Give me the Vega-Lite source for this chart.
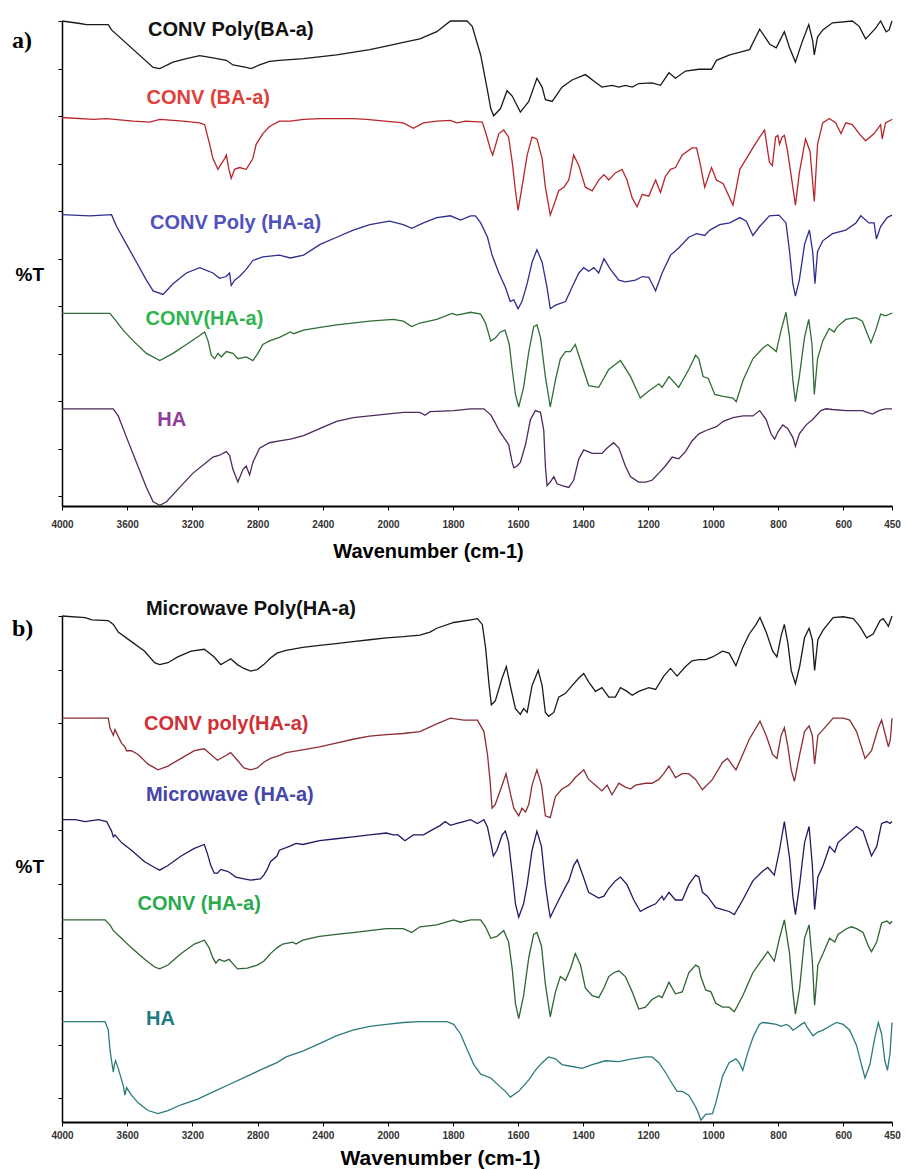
{
 "$schema": "https://vega.github.io/schema/vega-lite/v6.json",
 "background": "white",
 "padding": {"left": 12, "top": 18, "right": 2, "bottom": 2},
 "config": {"view": {"stroke": null}, "font": "Liberation Sans", "axis": {"grid": false, "labelFont": "Liberation Sans", "titleFont": "Liberation Sans"}},
 "spacing": 110,
 "bounds": "flush",
 "datasets": {
  "la": [
   {"s":"CONV Poly(BA-a)","w":3472,"t":133.2},
   {"s":"CONV (BA-a)","w":3481,"t":114.2},
   {"s":"CONV Poly (HA-a)","w":3460,"t":79.2},
   {"s":"CONV(HA-a)","w":3487,"t":52.2},
   {"s":"HA","w":3415,"t":24.2}
  ],
  "lb": [
   {"s":"Microwave Poly(HA-a)","w":3485,"t":134.0},
   {"s":"CONV poly(HA-a)","w":3497,"t":104.0},
   {"s":"Microwave (HA-a)","w":3485,"t":85.5},
   {"s":"CONV (HA-a)","w":3537,"t":57.0},
   {"s":"HA","w":3485,"t":27.0}
  ],
  "a": [
{"s":"CONV Poly(BA-a)","w":4000,"t":135.7},{"s":"CONV Poly(BA-a)","w":3890,"t":135.0},{"s":"CONV Poly(BA-a)","w":3849,"t":134.7},{"s":"CONV Poly(BA-a)","w":3716,"t":134.7},{"s":"CONV Poly(BA-a)","w":3696,"t":133.2},{"s":"CONV Poly(BA-a)","w":3441,"t":122.7},{"s":"CONV Poly(BA-a)","w":3400,"t":122.4},{"s":"CONV Poly(BA-a)","w":3319,"t":124.2},{"s":"CONV Poly(BA-a)","w":3237,"t":125.2},{"s":"CONV Poly(BA-a)","w":3155,"t":126.0},{"s":"CONV Poly(BA-a)","w":3074,"t":125.4},{"s":"CONV Poly(BA-a)","w":2992,"t":124.7},{"s":"CONV Poly(BA-a)","w":2951,"t":123.4},{"s":"CONV Poly(BA-a)","w":2870,"t":122.7},{"s":"CONV Poly(BA-a)","w":2839,"t":122.4},{"s":"CONV Poly(BA-a)","w":2788,"t":123.4},{"s":"CONV Poly(BA-a)","w":2727,"t":124.4},{"s":"CONV Poly(BA-a)","w":2666,"t":124.7},{"s":"CONV Poly(BA-a)","w":2518,"t":125.2},{"s":"CONV Poly(BA-a)","w":2315,"t":126.2},{"s":"CONV Poly(BA-a)","w":2112,"t":127.7},{"s":"CONV Poly(BA-a)","w":2010,"t":128.7},{"s":"CONV Poly(BA-a)","w":1953,"t":129.7},{"s":"CONV Poly(BA-a)","w":1902,"t":130.7},{"s":"CONV Poly(BA-a)","w":1850,"t":132.7},{"s":"CONV Poly(BA-a)","w":1808,"t":135.7},{"s":"CONV Poly(BA-a)","w":1757,"t":135.7},{"s":"CONV Poly(BA-a)","w":1741,"t":134.2},{"s":"CONV Poly(BA-a)","w":1715,"t":126.2},{"s":"CONV Poly(BA-a)","w":1694,"t":116.2},{"s":"CONV Poly(BA-a)","w":1684,"t":111.2},{"s":"CONV Poly(BA-a)","w":1675,"t":109.2},{"s":"CONV Poly(BA-a)","w":1654,"t":111.2},{"s":"CONV Poly(BA-a)","w":1634,"t":116.2},{"s":"CONV Poly(BA-a)","w":1618,"t":114.7},{"s":"CONV Poly(BA-a)","w":1593,"t":110.2},{"s":"CONV Poly(BA-a)","w":1567,"t":113.2},{"s":"CONV Poly(BA-a)","w":1542,"t":119.7},{"s":"CONV Poly(BA-a)","w":1526,"t":117.2},{"s":"CONV Poly(BA-a)","w":1516,"t":113.7},{"s":"CONV Poly(BA-a)","w":1495,"t":113.2},{"s":"CONV Poly(BA-a)","w":1480,"t":115.2},{"s":"CONV Poly(BA-a)","w":1465,"t":117.2},{"s":"CONV Poly(BA-a)","w":1434,"t":119.2},{"s":"CONV Poly(BA-a)","w":1393,"t":120.7},{"s":"CONV Poly(BA-a)","w":1357,"t":118.2},{"s":"CONV Poly(BA-a)","w":1342,"t":117.2},{"s":"CONV Poly(BA-a)","w":1311,"t":117.7},{"s":"CONV Poly(BA-a)","w":1290,"t":117.2},{"s":"CONV Poly(BA-a)","w":1270,"t":117.7},{"s":"CONV Poly(BA-a)","w":1249,"t":117.2},{"s":"CONV Poly(BA-a)","w":1229,"t":118.2},{"s":"CONV Poly(BA-a)","w":1188,"t":118.4},{"s":"CONV Poly(BA-a)","w":1162,"t":117.7},{"s":"CONV Poly(BA-a)","w":1136,"t":121.2},{"s":"CONV Poly(BA-a)","w":1116,"t":119.7},{"s":"CONV Poly(BA-a)","w":1085,"t":121.7},{"s":"CONV Poly(BA-a)","w":1044,"t":122.2},{"s":"CONV Poly(BA-a)","w":1005,"t":122.2},{"s":"CONV Poly(BA-a)","w":990,"t":124.7},{"s":"CONV Poly(BA-a)","w":949,"t":126.2},{"s":"CONV Poly(BA-a)","w":908,"t":127.2},{"s":"CONV Poly(BA-a)","w":888,"t":127.7},{"s":"CONV Poly(BA-a)","w":857,"t":133.4},{"s":"CONV Poly(BA-a)","w":826,"t":129.2},{"s":"CONV Poly(BA-a)","w":806,"t":128.2},{"s":"CONV Poly(BA-a)","w":781,"t":132.7},{"s":"CONV Poly(BA-a)","w":765,"t":128.2},{"s":"CONV Poly(BA-a)","w":747,"t":124.2},{"s":"CONV Poly(BA-a)","w":725,"t":130.2},{"s":"CONV Poly(BA-a)","w":706,"t":134.7},{"s":"CONV Poly(BA-a)","w":694,"t":130.2},{"s":"CONV Poly(BA-a)","w":689,"t":126.2},{"s":"CONV Poly(BA-a)","w":679,"t":131.2},{"s":"CONV Poly(BA-a)","w":663,"t":133.2},{"s":"CONV Poly(BA-a)","w":633,"t":135.2},{"s":"CONV Poly(BA-a)","w":572,"t":135.7},{"s":"CONV Poly(BA-a)","w":551,"t":134.2},{"s":"CONV Poly(BA-a)","w":531,"t":130.7},{"s":"CONV Poly(BA-a)","w":500,"t":133.7},{"s":"CONV Poly(BA-a)","w":485,"t":135.7},{"s":"CONV Poly(BA-a)","w":468,"t":132.7},{"s":"CONV Poly(BA-a)","w":459,"t":133.2},{"s":"CONV Poly(BA-a)","w":450,"t":135.7},
{"s":"CONV (BA-a)","w":4000,"t":108.7},{"s":"CONV (BA-a)","w":3808,"t":108.2},{"s":"CONV (BA-a)","w":3727,"t":108.4},{"s":"CONV (BA-a)","w":3563,"t":107.7},{"s":"CONV (BA-a)","w":3461,"t":107.4},{"s":"CONV (BA-a)","w":3400,"t":108.2},{"s":"CONV (BA-a)","w":3257,"t":107.7},{"s":"CONV (BA-a)","w":3155,"t":107.2},{"s":"CONV (BA-a)","w":3125,"t":106.7},{"s":"CONV (BA-a)","w":3094,"t":101.2},{"s":"CONV (BA-a)","w":3074,"t":97.2},{"s":"CONV (BA-a)","w":3043,"t":94.2},{"s":"CONV (BA-a)","w":3023,"t":95.7},{"s":"CONV (BA-a)","w":3002,"t":97.2},{"s":"CONV (BA-a)","w":2992,"t":98.2},{"s":"CONV (BA-a)","w":2976,"t":94.2},{"s":"CONV (BA-a)","w":2962,"t":91.7},{"s":"CONV (BA-a)","w":2941,"t":94.2},{"s":"CONV (BA-a)","w":2911,"t":94.7},{"s":"CONV (BA-a)","w":2870,"t":94.2},{"s":"CONV (BA-a)","w":2829,"t":97.2},{"s":"CONV (BA-a)","w":2809,"t":101.2},{"s":"CONV (BA-a)","w":2768,"t":104.2},{"s":"CONV (BA-a)","w":2727,"t":106.2},{"s":"CONV (BA-a)","w":2666,"t":107.7},{"s":"CONV (BA-a)","w":2599,"t":107.7},{"s":"CONV (BA-a)","w":2518,"t":108.2},{"s":"CONV (BA-a)","w":2416,"t":108.4},{"s":"CONV (BA-a)","w":2315,"t":108.4},{"s":"CONV (BA-a)","w":2213,"t":108.4},{"s":"CONV (BA-a)","w":2132,"t":108.2},{"s":"CONV (BA-a)","w":1953,"t":107.2},{"s":"CONV (BA-a)","w":1922,"t":105.7},{"s":"CONV (BA-a)","w":1891,"t":107.2},{"s":"CONV (BA-a)","w":1850,"t":107.7},{"s":"CONV (BA-a)","w":1808,"t":107.9},{"s":"CONV (BA-a)","w":1788,"t":107.2},{"s":"CONV (BA-a)","w":1762,"t":107.7},{"s":"CONV (BA-a)","w":1710,"t":107.4},{"s":"CONV (BA-a)","w":1698,"t":104.0},{"s":"CONV (BA-a)","w":1684,"t":99.5},{"s":"CONV (BA-a)","w":1678,"t":98.2},{"s":"CONV (BA-a)","w":1659,"t":104.2},{"s":"CONV (BA-a)","w":1644,"t":105.2},{"s":"CONV (BA-a)","w":1629,"t":103.2},{"s":"CONV (BA-a)","w":1618,"t":96.2},{"s":"CONV (BA-a)","w":1608,"t":88.2},{"s":"CONV (BA-a)","w":1600,"t":82.7},{"s":"CONV (BA-a)","w":1588,"t":89.2},{"s":"CONV (BA-a)","w":1572,"t":98.2},{"s":"CONV (BA-a)","w":1557,"t":103.2},{"s":"CONV (BA-a)","w":1542,"t":102.7},{"s":"CONV (BA-a)","w":1526,"t":97.2},{"s":"CONV (BA-a)","w":1516,"t":89.2},{"s":"CONV (BA-a)","w":1501,"t":81.4},{"s":"CONV (BA-a)","w":1490,"t":84.2},{"s":"CONV (BA-a)","w":1475,"t":88.2},{"s":"CONV (BA-a)","w":1459,"t":89.2},{"s":"CONV (BA-a)","w":1444,"t":91.2},{"s":"CONV (BA-a)","w":1429,"t":98.2},{"s":"CONV (BA-a)","w":1413,"t":95.2},{"s":"CONV (BA-a)","w":1393,"t":89.2},{"s":"CONV (BA-a)","w":1372,"t":88.2},{"s":"CONV (BA-a)","w":1352,"t":91.2},{"s":"CONV (BA-a)","w":1336,"t":92.7},{"s":"CONV (BA-a)","w":1321,"t":91.2},{"s":"CONV (BA-a)","w":1301,"t":93.2},{"s":"CONV (BA-a)","w":1280,"t":94.2},{"s":"CONV (BA-a)","w":1265,"t":91.2},{"s":"CONV (BA-a)","w":1249,"t":86.2},{"s":"CONV (BA-a)","w":1234,"t":83.7},{"s":"CONV (BA-a)","w":1218,"t":87.2},{"s":"CONV (BA-a)","w":1198,"t":86.7},{"s":"CONV (BA-a)","w":1177,"t":91.2},{"s":"CONV (BA-a)","w":1162,"t":87.7},{"s":"CONV (BA-a)","w":1147,"t":92.2},{"s":"CONV (BA-a)","w":1131,"t":94.2},{"s":"CONV (BA-a)","w":1116,"t":94.7},{"s":"CONV (BA-a)","w":1095,"t":98.2},{"s":"CONV (BA-a)","w":1065,"t":100.2},{"s":"CONV (BA-a)","w":1051,"t":100.2},{"s":"CONV (BA-a)","w":1041,"t":96.2},{"s":"CONV (BA-a)","w":1026,"t":89.2},{"s":"CONV (BA-a)","w":1005,"t":94.7},{"s":"CONV (BA-a)","w":990,"t":91.2},{"s":"CONV (BA-a)","w":969,"t":90.2},{"s":"CONV (BA-a)","w":939,"t":84.2},{"s":"CONV (BA-a)","w":918,"t":94.2},{"s":"CONV (BA-a)","w":898,"t":97.2},{"s":"CONV (BA-a)","w":878,"t":100.2},{"s":"CONV (BA-a)","w":857,"t":103.2},{"s":"CONV (BA-a)","w":842,"t":105.2},{"s":"CONV (BA-a)","w":827,"t":96.2},{"s":"CONV (BA-a)","w":818,"t":95.2},{"s":"CONV (BA-a)","w":808,"t":103.2},{"s":"CONV (BA-a)","w":801,"t":103.7},{"s":"CONV (BA-a)","w":796,"t":101.2},{"s":"CONV (BA-a)","w":788,"t":103.2},{"s":"CONV (BA-a)","w":781,"t":103.7},{"s":"CONV (BA-a)","w":771,"t":99.2},{"s":"CONV (BA-a)","w":755,"t":89.2},{"s":"CONV (BA-a)","w":747,"t":84.2},{"s":"CONV (BA-a)","w":735,"t":93.2},{"s":"CONV (BA-a)","w":716,"t":102.7},{"s":"CONV (BA-a)","w":702,"t":99.2},{"s":"CONV (BA-a)","w":689,"t":85.2},{"s":"CONV (BA-a)","w":679,"t":101.2},{"s":"CONV (BA-a)","w":663,"t":107.2},{"s":"CONV (BA-a)","w":643,"t":108.4},{"s":"CONV (BA-a)","w":623,"t":107.2},{"s":"CONV (BA-a)","w":607,"t":104.2},{"s":"CONV (BA-a)","w":592,"t":107.2},{"s":"CONV (BA-a)","w":572,"t":106.7},{"s":"CONV (BA-a)","w":551,"t":104.2},{"s":"CONV (BA-a)","w":531,"t":102.2},{"s":"CONV (BA-a)","w":505,"t":104.2},{"s":"CONV (BA-a)","w":485,"t":106.7},{"s":"CONV (BA-a)","w":480,"t":102.7},{"s":"CONV (BA-a)","w":470,"t":107.2},{"s":"CONV (BA-a)","w":449,"t":108.2},
{"s":"CONV Poly (HA-a)","w":4000,"t":81.5},{"s":"CONV Poly (HA-a)","w":3829,"t":81.2},{"s":"CONV Poly (HA-a)","w":3696,"t":81.5},{"s":"CONV Poly (HA-a)","w":3665,"t":78.2},{"s":"CONV Poly (HA-a)","w":3604,"t":73.2},{"s":"CONV Poly (HA-a)","w":3543,"t":68.2},{"s":"CONV Poly (HA-a)","w":3482,"t":63.2},{"s":"CONV Poly (HA-a)","w":3441,"t":60.2},{"s":"CONV Poly (HA-a)","w":3380,"t":59.2},{"s":"CONV Poly (HA-a)","w":3319,"t":62.2},{"s":"CONV Poly (HA-a)","w":3237,"t":65.2},{"s":"CONV Poly (HA-a)","w":3155,"t":66.7},{"s":"CONV Poly (HA-a)","w":3074,"t":65.2},{"s":"CONV Poly (HA-a)","w":3033,"t":63.7},{"s":"CONV Poly (HA-a)","w":2992,"t":64.2},{"s":"CONV Poly (HA-a)","w":2972,"t":65.2},{"s":"CONV Poly (HA-a)","w":2962,"t":61.7},{"s":"CONV Poly (HA-a)","w":2941,"t":63.2},{"s":"CONV Poly (HA-a)","w":2911,"t":64.2},{"s":"CONV Poly (HA-a)","w":2870,"t":66.2},{"s":"CONV Poly (HA-a)","w":2829,"t":68.7},{"s":"CONV Poly (HA-a)","w":2768,"t":69.7},{"s":"CONV Poly (HA-a)","w":2666,"t":70.2},{"s":"CONV Poly (HA-a)","w":2599,"t":69.4},{"s":"CONV Poly (HA-a)","w":2518,"t":70.2},{"s":"CONV Poly (HA-a)","w":2416,"t":73.2},{"s":"CONV Poly (HA-a)","w":2315,"t":75.2},{"s":"CONV Poly (HA-a)","w":2213,"t":77.2},{"s":"CONV Poly (HA-a)","w":2112,"t":78.7},{"s":"CONV Poly (HA-a)","w":1995,"t":79.7},{"s":"CONV Poly (HA-a)","w":1953,"t":78.7},{"s":"CONV Poly (HA-a)","w":1927,"t":77.7},{"s":"CONV Poly (HA-a)","w":1891,"t":79.2},{"s":"CONV Poly (HA-a)","w":1850,"t":80.7},{"s":"CONV Poly (HA-a)","w":1808,"t":81.2},{"s":"CONV Poly (HA-a)","w":1777,"t":80.0},{"s":"CONV Poly (HA-a)","w":1746,"t":81.2},{"s":"CONV Poly (HA-a)","w":1731,"t":81.2},{"s":"CONV Poly (HA-a)","w":1715,"t":79.2},{"s":"CONV Poly (HA-a)","w":1694,"t":75.2},{"s":"CONV Poly (HA-a)","w":1680,"t":70.2},{"s":"CONV Poly (HA-a)","w":1659,"t":65.2},{"s":"CONV Poly (HA-a)","w":1639,"t":61.2},{"s":"CONV Poly (HA-a)","w":1624,"t":57.2},{"s":"CONV Poly (HA-a)","w":1613,"t":57.7},{"s":"CONV Poly (HA-a)","w":1608,"t":56.7},{"s":"CONV Poly (HA-a)","w":1600,"t":55.2},{"s":"CONV Poly (HA-a)","w":1588,"t":57.2},{"s":"CONV Poly (HA-a)","w":1572,"t":62.2},{"s":"CONV Poly (HA-a)","w":1557,"t":68.2},{"s":"CONV Poly (HA-a)","w":1542,"t":71.7},{"s":"CONV Poly (HA-a)","w":1526,"t":68.2},{"s":"CONV Poly (HA-a)","w":1511,"t":61.2},{"s":"CONV Poly (HA-a)","w":1501,"t":55.2},{"s":"CONV Poly (HA-a)","w":1485,"t":56.2},{"s":"CONV Poly (HA-a)","w":1454,"t":57.2},{"s":"CONV Poly (HA-a)","w":1434,"t":61.2},{"s":"CONV Poly (HA-a)","w":1413,"t":65.2},{"s":"CONV Poly (HA-a)","w":1398,"t":66.7},{"s":"CONV Poly (HA-a)","w":1383,"t":65.7},{"s":"CONV Poly (HA-a)","w":1367,"t":66.7},{"s":"CONV Poly (HA-a)","w":1352,"t":65.2},{"s":"CONV Poly (HA-a)","w":1336,"t":69.2},{"s":"CONV Poly (HA-a)","w":1316,"t":66.2},{"s":"CONV Poly (HA-a)","w":1290,"t":63.2},{"s":"CONV Poly (HA-a)","w":1270,"t":62.7},{"s":"CONV Poly (HA-a)","w":1239,"t":63.2},{"s":"CONV Poly (HA-a)","w":1218,"t":64.2},{"s":"CONV Poly (HA-a)","w":1198,"t":64.0},{"s":"CONV Poly (HA-a)","w":1177,"t":60.2},{"s":"CONV Poly (HA-a)","w":1157,"t":65.2},{"s":"CONV Poly (HA-a)","w":1131,"t":70.2},{"s":"CONV Poly (HA-a)","w":1106,"t":72.2},{"s":"CONV Poly (HA-a)","w":1075,"t":75.2},{"s":"CONV Poly (HA-a)","w":1051,"t":76.2},{"s":"CONV Poly (HA-a)","w":1026,"t":75.7},{"s":"CONV Poly (HA-a)","w":1010,"t":77.2},{"s":"CONV Poly (HA-a)","w":980,"t":78.7},{"s":"CONV Poly (HA-a)","w":949,"t":79.2},{"s":"CONV Poly (HA-a)","w":918,"t":80.7},{"s":"CONV Poly (HA-a)","w":898,"t":79.7},{"s":"CONV Poly (HA-a)","w":878,"t":75.7},{"s":"CONV Poly (HA-a)","w":857,"t":78.2},{"s":"CONV Poly (HA-a)","w":827,"t":81.2},{"s":"CONV Poly (HA-a)","w":798,"t":81.4},{"s":"CONV Poly (HA-a)","w":776,"t":79.2},{"s":"CONV Poly (HA-a)","w":765,"t":71.2},{"s":"CONV Poly (HA-a)","w":755,"t":62.2},{"s":"CONV Poly (HA-a)","w":747,"t":58.7},{"s":"CONV Poly (HA-a)","w":735,"t":63.2},{"s":"CONV Poly (HA-a)","w":719,"t":73.2},{"s":"CONV Poly (HA-a)","w":704,"t":77.2},{"s":"CONV Poly (HA-a)","w":694,"t":71.2},{"s":"CONV Poly (HA-a)","w":687,"t":62.2},{"s":"CONV Poly (HA-a)","w":679,"t":71.2},{"s":"CONV Poly (HA-a)","w":663,"t":74.2},{"s":"CONV Poly (HA-a)","w":633,"t":76.2},{"s":"CONV Poly (HA-a)","w":592,"t":77.2},{"s":"CONV Poly (HA-a)","w":561,"t":79.2},{"s":"CONV Poly (HA-a)","w":546,"t":81.2},{"s":"CONV Poly (HA-a)","w":521,"t":79.2},{"s":"CONV Poly (HA-a)","w":505,"t":79.2},{"s":"CONV Poly (HA-a)","w":498,"t":74.7},{"s":"CONV Poly (HA-a)","w":485,"t":78.2},{"s":"CONV Poly (HA-a)","w":465,"t":80.7},{"s":"CONV Poly (HA-a)","w":450,"t":81.4},
{"s":"CONV(HA-a)","w":4000,"t":53.9},{"s":"CONV(HA-a)","w":3706,"t":53.9},{"s":"CONV(HA-a)","w":3676,"t":52.2},{"s":"CONV(HA-a)","w":3625,"t":49.2},{"s":"CONV(HA-a)","w":3563,"t":46.2},{"s":"CONV(HA-a)","w":3482,"t":42.7},{"s":"CONV(HA-a)","w":3400,"t":40.7},{"s":"CONV(HA-a)","w":3319,"t":42.7},{"s":"CONV(HA-a)","w":3237,"t":45.2},{"s":"CONV(HA-a)","w":3155,"t":47.7},{"s":"CONV(HA-a)","w":3125,"t":48.7},{"s":"CONV(HA-a)","w":3104,"t":46.2},{"s":"CONV(HA-a)","w":3084,"t":42.2},{"s":"CONV(HA-a)","w":3064,"t":41.2},{"s":"CONV(HA-a)","w":3043,"t":42.7},{"s":"CONV(HA-a)","w":3023,"t":41.7},{"s":"CONV(HA-a)","w":2992,"t":43.2},{"s":"CONV(HA-a)","w":2951,"t":42.7},{"s":"CONV(HA-a)","w":2921,"t":41.2},{"s":"CONV(HA-a)","w":2870,"t":41.7},{"s":"CONV(HA-a)","w":2829,"t":40.7},{"s":"CONV(HA-a)","w":2798,"t":42.7},{"s":"CONV(HA-a)","w":2768,"t":45.2},{"s":"CONV(HA-a)","w":2727,"t":46.2},{"s":"CONV(HA-a)","w":2666,"t":47.2},{"s":"CONV(HA-a)","w":2599,"t":48.7},{"s":"CONV(HA-a)","w":2579,"t":48.2},{"s":"CONV(HA-a)","w":2518,"t":49.2},{"s":"CONV(HA-a)","w":2416,"t":50.0},{"s":"CONV(HA-a)","w":2315,"t":50.7},{"s":"CONV(HA-a)","w":2112,"t":51.7},{"s":"CONV(HA-a)","w":1984,"t":52.2},{"s":"CONV(HA-a)","w":1953,"t":51.7},{"s":"CONV(HA-a)","w":1927,"t":50.2},{"s":"CONV(HA-a)","w":1902,"t":51.2},{"s":"CONV(HA-a)","w":1850,"t":52.2},{"s":"CONV(HA-a)","w":1803,"t":53.9},{"s":"CONV(HA-a)","w":1788,"t":53.4},{"s":"CONV(HA-a)","w":1746,"t":54.2},{"s":"CONV(HA-a)","w":1715,"t":53.7},{"s":"CONV(HA-a)","w":1700,"t":51.2},{"s":"CONV(HA-a)","w":1684,"t":46.2},{"s":"CONV(HA-a)","w":1670,"t":47.0},{"s":"CONV(HA-a)","w":1654,"t":48.7},{"s":"CONV(HA-a)","w":1640,"t":49.2},{"s":"CONV(HA-a)","w":1627,"t":45.2},{"s":"CONV(HA-a)","w":1618,"t":38.2},{"s":"CONV(HA-a)","w":1608,"t":31.2},{"s":"CONV(HA-a)","w":1598,"t":27.7},{"s":"CONV(HA-a)","w":1583,"t":33.2},{"s":"CONV(HA-a)","w":1567,"t":43.2},{"s":"CONV(HA-a)","w":1552,"t":50.2},{"s":"CONV(HA-a)","w":1542,"t":50.7},{"s":"CONV(HA-a)","w":1531,"t":47.2},{"s":"CONV(HA-a)","w":1516,"t":36.2},{"s":"CONV(HA-a)","w":1501,"t":27.7},{"s":"CONV(HA-a)","w":1485,"t":35.2},{"s":"CONV(HA-a)","w":1470,"t":41.2},{"s":"CONV(HA-a)","w":1454,"t":43.2},{"s":"CONV(HA-a)","w":1439,"t":43.2},{"s":"CONV(HA-a)","w":1424,"t":45.2},{"s":"CONV(HA-a)","w":1383,"t":33.7},{"s":"CONV(HA-a)","w":1352,"t":33.2},{"s":"CONV(HA-a)","w":1321,"t":38.2},{"s":"CONV(HA-a)","w":1285,"t":40.7},{"s":"CONV(HA-a)","w":1254,"t":36.2},{"s":"CONV(HA-a)","w":1224,"t":30.2},{"s":"CONV(HA-a)","w":1198,"t":32.2},{"s":"CONV(HA-a)","w":1167,"t":34.2},{"s":"CONV(HA-a)","w":1157,"t":33.2},{"s":"CONV(HA-a)","w":1136,"t":36.2},{"s":"CONV(HA-a)","w":1106,"t":33.2},{"s":"CONV(HA-a)","w":1075,"t":38.2},{"s":"CONV(HA-a)","w":1054,"t":42.2},{"s":"CONV(HA-a)","w":1044,"t":41.2},{"s":"CONV(HA-a)","w":1031,"t":36.2},{"s":"CONV(HA-a)","w":1015,"t":35.7},{"s":"CONV(HA-a)","w":995,"t":31.2},{"s":"CONV(HA-a)","w":969,"t":30.7},{"s":"CONV(HA-a)","w":939,"t":30.2},{"s":"CONV(HA-a)","w":929,"t":29.2},{"s":"CONV(HA-a)","w":908,"t":35.2},{"s":"CONV(HA-a)","w":878,"t":41.2},{"s":"CONV(HA-a)","w":847,"t":44.2},{"s":"CONV(HA-a)","w":832,"t":45.2},{"s":"CONV(HA-a)","w":806,"t":43.2},{"s":"CONV(HA-a)","w":791,"t":49.2},{"s":"CONV(HA-a)","w":776,"t":54.2},{"s":"CONV(HA-a)","w":765,"t":47.2},{"s":"CONV(HA-a)","w":755,"t":35.2},{"s":"CONV(HA-a)","w":747,"t":29.2},{"s":"CONV(HA-a)","w":735,"t":36.2},{"s":"CONV(HA-a)","w":719,"t":47.2},{"s":"CONV(HA-a)","w":706,"t":52.2},{"s":"CONV(HA-a)","w":696,"t":45.2},{"s":"CONV(HA-a)","w":689,"t":31.2},{"s":"CONV(HA-a)","w":679,"t":41.2},{"s":"CONV(HA-a)","w":663,"t":46.2},{"s":"CONV(HA-a)","w":643,"t":49.7},{"s":"CONV(HA-a)","w":628,"t":48.7},{"s":"CONV(HA-a)","w":618,"t":50.2},{"s":"CONV(HA-a)","w":592,"t":52.2},{"s":"CONV(HA-a)","w":561,"t":52.7},{"s":"CONV(HA-a)","w":541,"t":51.7},{"s":"CONV(HA-a)","w":526,"t":48.2},{"s":"CONV(HA-a)","w":515,"t":45.7},{"s":"CONV(HA-a)","w":500,"t":49.2},{"s":"CONV(HA-a)","w":485,"t":53.7},{"s":"CONV(HA-a)","w":470,"t":53.2},{"s":"CONV(HA-a)","w":449,"t":54.0},
{"s":"HA","w":4000,"t":27.2},{"s":"HA","w":3686,"t":27.2},{"s":"HA","w":3655,"t":25.2},{"s":"HA","w":3604,"t":19.2},{"s":"HA","w":3543,"t":12.2},{"s":"HA","w":3482,"t":5.2},{"s":"HA","w":3441,"t":1.2},{"s":"HA","w":3400,"t":0.2},{"s":"HA","w":3359,"t":1.2},{"s":"HA","w":3278,"t":5.2},{"s":"HA","w":3196,"t":9.2},{"s":"HA","w":3115,"t":12.2},{"s":"HA","w":3074,"t":13.7},{"s":"HA","w":3033,"t":14.2},{"s":"HA","w":2992,"t":15.2},{"s":"HA","w":2972,"t":14.2},{"s":"HA","w":2951,"t":10.2},{"s":"HA","w":2921,"t":6.7},{"s":"HA","w":2890,"t":10.2},{"s":"HA","w":2870,"t":11.2},{"s":"HA","w":2849,"t":8.7},{"s":"HA","w":2829,"t":12.2},{"s":"HA","w":2788,"t":16.2},{"s":"HA","w":2727,"t":17.7},{"s":"HA","w":2666,"t":18.2},{"s":"HA","w":2599,"t":18.7},{"s":"HA","w":2518,"t":19.7},{"s":"HA","w":2416,"t":21.7},{"s":"HA","w":2315,"t":23.7},{"s":"HA","w":2213,"t":24.7},{"s":"HA","w":2112,"t":25.2},{"s":"HA","w":2010,"t":25.7},{"s":"HA","w":1953,"t":26.2},{"s":"HA","w":1902,"t":26.2},{"s":"HA","w":1886,"t":25.4},{"s":"HA","w":1871,"t":26.4},{"s":"HA","w":1798,"t":26.7},{"s":"HA","w":1746,"t":27.2},{"s":"HA","w":1705,"t":27.2},{"s":"HA","w":1684,"t":25.5},{"s":"HA","w":1670,"t":23.2},{"s":"HA","w":1659,"t":21.2},{"s":"HA","w":1644,"t":19.2},{"s":"HA","w":1629,"t":17.2},{"s":"HA","w":1618,"t":12.2},{"s":"HA","w":1613,"t":10.7},{"s":"HA","w":1603,"t":11.2},{"s":"HA","w":1593,"t":12.2},{"s":"HA","w":1577,"t":17.2},{"s":"HA","w":1562,"t":24.2},{"s":"HA","w":1547,"t":26.7},{"s":"HA","w":1531,"t":26.2},{"s":"HA","w":1521,"t":21.2},{"s":"HA","w":1516,"t":11.2},{"s":"HA","w":1511,"t":5.7},{"s":"HA","w":1501,"t":6.7},{"s":"HA","w":1490,"t":8.2},{"s":"HA","w":1480,"t":6.2},{"s":"HA","w":1465,"t":5.7},{"s":"HA","w":1444,"t":5.2},{"s":"HA","w":1429,"t":7.2},{"s":"HA","w":1413,"t":13.2},{"s":"HA","w":1398,"t":15.7},{"s":"HA","w":1372,"t":14.7},{"s":"HA","w":1342,"t":14.7},{"s":"HA","w":1326,"t":16.2},{"s":"HA","w":1306,"t":17.7},{"s":"HA","w":1290,"t":16.2},{"s":"HA","w":1270,"t":11.2},{"s":"HA","w":1254,"t":8.2},{"s":"HA","w":1229,"t":6.7},{"s":"HA","w":1208,"t":6.7},{"s":"HA","w":1188,"t":7.2},{"s":"HA","w":1167,"t":9.2},{"s":"HA","w":1147,"t":11.2},{"s":"HA","w":1126,"t":13.7},{"s":"HA","w":1106,"t":13.2},{"s":"HA","w":1085,"t":15.2},{"s":"HA","w":1065,"t":18.2},{"s":"HA","w":1044,"t":20.2},{"s":"HA","w":1020,"t":21.2},{"s":"HA","w":990,"t":22.2},{"s":"HA","w":969,"t":23.7},{"s":"HA","w":939,"t":24.7},{"s":"HA","w":908,"t":25.2},{"s":"HA","w":878,"t":25.2},{"s":"HA","w":857,"t":26.7},{"s":"HA","w":837,"t":24.2},{"s":"HA","w":822,"t":20.2},{"s":"HA","w":811,"t":18.7},{"s":"HA","w":801,"t":20.7},{"s":"HA","w":786,"t":22.7},{"s":"HA","w":771,"t":21.7},{"s":"HA","w":755,"t":19.2},{"s":"HA","w":747,"t":16.7},{"s":"HA","w":735,"t":20.2},{"s":"HA","w":714,"t":22.7},{"s":"HA","w":694,"t":24.2},{"s":"HA","w":669,"t":26.7},{"s":"HA","w":653,"t":27.2},{"s":"HA","w":633,"t":27.0},{"s":"HA","w":592,"t":26.7},{"s":"HA","w":541,"t":26.7},{"s":"HA","w":526,"t":26.2},{"s":"HA","w":510,"t":25.7},{"s":"HA","w":490,"t":26.7},{"s":"HA","w":470,"t":27.2},{"s":"HA","w":450,"t":27.2}
  ],
  "b": [
{"s":"Microwave Poly(HA-a)","w":4000,"t":132.2},{"s":"Microwave Poly(HA-a)","w":3858,"t":131.8},{"s":"Microwave Poly(HA-a)","w":3817,"t":131.2},{"s":"Microwave Poly(HA-a)","w":3716,"t":131.0},{"s":"Microwave Poly(HA-a)","w":3685,"t":130.0},{"s":"Microwave Poly(HA-a)","w":3655,"t":128.0},{"s":"Microwave Poly(HA-a)","w":3574,"t":125.5},{"s":"Microwave Poly(HA-a)","w":3493,"t":123.0},{"s":"Microwave Poly(HA-a)","w":3432,"t":120.0},{"s":"Microwave Poly(HA-a)","w":3401,"t":119.5},{"s":"Microwave Poly(HA-a)","w":3350,"t":120.0},{"s":"Microwave Poly(HA-a)","w":3290,"t":121.5},{"s":"Microwave Poly(HA-a)","w":3208,"t":123.0},{"s":"Microwave Poly(HA-a)","w":3127,"t":123.5},{"s":"Microwave Poly(HA-a)","w":3066,"t":121.5},{"s":"Microwave Poly(HA-a)","w":3026,"t":119.5},{"s":"Microwave Poly(HA-a)","w":2985,"t":120.5},{"s":"Microwave Poly(HA-a)","w":2965,"t":121.0},{"s":"Microwave Poly(HA-a)","w":2924,"t":119.5},{"s":"Microwave Poly(HA-a)","w":2884,"t":118.5},{"s":"Microwave Poly(HA-a)","w":2843,"t":117.8},{"s":"Microwave Poly(HA-a)","w":2802,"t":118.2},{"s":"Microwave Poly(HA-a)","w":2762,"t":119.5},{"s":"Microwave Poly(HA-a)","w":2721,"t":121.2},{"s":"Microwave Poly(HA-a)","w":2681,"t":122.5},{"s":"Microwave Poly(HA-a)","w":2625,"t":123.2},{"s":"Microwave Poly(HA-a)","w":2523,"t":124.0},{"s":"Microwave Poly(HA-a)","w":2420,"t":124.5},{"s":"Microwave Poly(HA-a)","w":2318,"t":125.0},{"s":"Microwave Poly(HA-a)","w":2215,"t":125.5},{"s":"Microwave Poly(HA-a)","w":2113,"t":126.0},{"s":"Microwave Poly(HA-a)","w":2010,"t":126.5},{"s":"Microwave Poly(HA-a)","w":1953,"t":126.8},{"s":"Microwave Poly(HA-a)","w":1902,"t":127.2},{"s":"Microwave Poly(HA-a)","w":1871,"t":128.0},{"s":"Microwave Poly(HA-a)","w":1850,"t":129.0},{"s":"Microwave Poly(HA-a)","w":1798,"t":130.5},{"s":"Microwave Poly(HA-a)","w":1746,"t":131.2},{"s":"Microwave Poly(HA-a)","w":1725,"t":131.5},{"s":"Microwave Poly(HA-a)","w":1710,"t":130.0},{"s":"Microwave Poly(HA-a)","w":1700,"t":124.0},{"s":"Microwave Poly(HA-a)","w":1689,"t":114.0},{"s":"Microwave Poly(HA-a)","w":1682,"t":109.0},{"s":"Microwave Poly(HA-a)","w":1670,"t":110.0},{"s":"Microwave Poly(HA-a)","w":1649,"t":116.0},{"s":"Microwave Poly(HA-a)","w":1636,"t":119.0},{"s":"Microwave Poly(HA-a)","w":1624,"t":114.0},{"s":"Microwave Poly(HA-a)","w":1608,"t":108.0},{"s":"Microwave Poly(HA-a)","w":1593,"t":106.5},{"s":"Microwave Poly(HA-a)","w":1583,"t":108.0},{"s":"Microwave Poly(HA-a)","w":1572,"t":107.0},{"s":"Microwave Poly(HA-a)","w":1557,"t":114.0},{"s":"Microwave Poly(HA-a)","w":1538,"t":118.0},{"s":"Microwave Poly(HA-a)","w":1526,"t":114.0},{"s":"Microwave Poly(HA-a)","w":1516,"t":107.0},{"s":"Microwave Poly(HA-a)","w":1506,"t":106.0},{"s":"Microwave Poly(HA-a)","w":1490,"t":107.0},{"s":"Microwave Poly(HA-a)","w":1475,"t":111.0},{"s":"Microwave Poly(HA-a)","w":1454,"t":112.0},{"s":"Microwave Poly(HA-a)","w":1434,"t":114.0},{"s":"Microwave Poly(HA-a)","w":1413,"t":116.0},{"s":"Microwave Poly(HA-a)","w":1398,"t":117.2},{"s":"Microwave Poly(HA-a)","w":1383,"t":115.0},{"s":"Microwave Poly(HA-a)","w":1362,"t":112.5},{"s":"Microwave Poly(HA-a)","w":1342,"t":113.5},{"s":"Microwave Poly(HA-a)","w":1321,"t":111.0},{"s":"Microwave Poly(HA-a)","w":1301,"t":111.0},{"s":"Microwave Poly(HA-a)","w":1285,"t":113.5},{"s":"Microwave Poly(HA-a)","w":1265,"t":112.5},{"s":"Microwave Poly(HA-a)","w":1249,"t":111.5},{"s":"Microwave Poly(HA-a)","w":1229,"t":112.5},{"s":"Microwave Poly(HA-a)","w":1198,"t":113.5},{"s":"Microwave Poly(HA-a)","w":1177,"t":113.0},{"s":"Microwave Poly(HA-a)","w":1152,"t":116.5},{"s":"Microwave Poly(HA-a)","w":1131,"t":118.5},{"s":"Microwave Poly(HA-a)","w":1111,"t":116.5},{"s":"Microwave Poly(HA-a)","w":1085,"t":119.0},{"s":"Microwave Poly(HA-a)","w":1065,"t":120.5},{"s":"Microwave Poly(HA-a)","w":1044,"t":120.8},{"s":"Microwave Poly(HA-a)","w":1023,"t":120.8},{"s":"Microwave Poly(HA-a)","w":1002,"t":121.5},{"s":"Microwave Poly(HA-a)","w":971,"t":123.0},{"s":"Microwave Poly(HA-a)","w":951,"t":122.5},{"s":"Microwave Poly(HA-a)","w":930,"t":119.2},{"s":"Microwave Poly(HA-a)","w":909,"t":124.0},{"s":"Microwave Poly(HA-a)","w":889,"t":127.5},{"s":"Microwave Poly(HA-a)","w":868,"t":130.0},{"s":"Microwave Poly(HA-a)","w":856,"t":131.8},{"s":"Microwave Poly(HA-a)","w":837,"t":128.0},{"s":"Microwave Poly(HA-a)","w":817,"t":123.0},{"s":"Microwave Poly(HA-a)","w":804,"t":121.5},{"s":"Microwave Poly(HA-a)","w":791,"t":127.0},{"s":"Microwave Poly(HA-a)","w":781,"t":130.0},{"s":"Microwave Poly(HA-a)","w":770,"t":125.0},{"s":"Microwave Poly(HA-a)","w":760,"t":118.0},{"s":"Microwave Poly(HA-a)","w":747,"t":114.5},{"s":"Microwave Poly(HA-a)","w":734,"t":119.0},{"s":"Microwave Poly(HA-a)","w":719,"t":126.5},{"s":"Microwave Poly(HA-a)","w":705,"t":129.0},{"s":"Microwave Poly(HA-a)","w":695,"t":126.0},{"s":"Microwave Poly(HA-a)","w":688,"t":118.0},{"s":"Microwave Poly(HA-a)","w":678,"t":126.0},{"s":"Microwave Poly(HA-a)","w":662,"t":128.5},{"s":"Microwave Poly(HA-a)","w":631,"t":131.8},{"s":"Microwave Poly(HA-a)","w":600,"t":132.0},{"s":"Microwave Poly(HA-a)","w":569,"t":131.5},{"s":"Microwave Poly(HA-a)","w":549,"t":129.5},{"s":"Microwave Poly(HA-a)","w":528,"t":126.5},{"s":"Microwave Poly(HA-a)","w":508,"t":127.5},{"s":"Microwave Poly(HA-a)","w":487,"t":131.0},{"s":"Microwave Poly(HA-a)","w":477,"t":131.5},{"s":"Microwave Poly(HA-a)","w":461,"t":129.5},{"s":"Microwave Poly(HA-a)","w":450,"t":132.2},
{"s":"CONV poly(HA-a)","w":4000,"t":105.5},{"s":"CONV poly(HA-a)","w":3716,"t":105.5},{"s":"CONV poly(HA-a)","w":3706,"t":103.0},{"s":"CONV poly(HA-a)","w":3685,"t":101.0},{"s":"CONV poly(HA-a)","w":3675,"t":102.5},{"s":"CONV poly(HA-a)","w":3635,"t":99.0},{"s":"CONV poly(HA-a)","w":3614,"t":98.0},{"s":"CONV poly(HA-a)","w":3604,"t":97.0},{"s":"CONV poly(HA-a)","w":3574,"t":97.0},{"s":"CONV poly(HA-a)","w":3533,"t":96.0},{"s":"CONV poly(HA-a)","w":3472,"t":93.5},{"s":"CONV poly(HA-a)","w":3411,"t":92.0},{"s":"CONV poly(HA-a)","w":3350,"t":93.0},{"s":"CONV poly(HA-a)","w":3269,"t":95.0},{"s":"CONV poly(HA-a)","w":3188,"t":97.0},{"s":"CONV poly(HA-a)","w":3127,"t":97.5},{"s":"CONV poly(HA-a)","w":3087,"t":96.0},{"s":"CONV poly(HA-a)","w":3046,"t":94.5},{"s":"CONV poly(HA-a)","w":3005,"t":95.5},{"s":"CONV poly(HA-a)","w":2965,"t":96.5},{"s":"CONV poly(HA-a)","w":2924,"t":94.5},{"s":"CONV poly(HA-a)","w":2884,"t":92.5},{"s":"CONV poly(HA-a)","w":2843,"t":92.0},{"s":"CONV poly(HA-a)","w":2802,"t":92.5},{"s":"CONV poly(HA-a)","w":2762,"t":94.0},{"s":"CONV poly(HA-a)","w":2721,"t":95.0},{"s":"CONV poly(HA-a)","w":2681,"t":95.5},{"s":"CONV poly(HA-a)","w":2625,"t":96.5},{"s":"CONV poly(HA-a)","w":2523,"t":97.2},{"s":"CONV poly(HA-a)","w":2420,"t":98.0},{"s":"CONV poly(HA-a)","w":2318,"t":99.0},{"s":"CONV poly(HA-a)","w":2215,"t":100.0},{"s":"CONV poly(HA-a)","w":2113,"t":100.8},{"s":"CONV poly(HA-a)","w":2010,"t":101.2},{"s":"CONV poly(HA-a)","w":1953,"t":101.5},{"s":"CONV poly(HA-a)","w":1902,"t":102.0},{"s":"CONV poly(HA-a)","w":1850,"t":104.0},{"s":"CONV poly(HA-a)","w":1808,"t":105.5},{"s":"CONV poly(HA-a)","w":1767,"t":105.0},{"s":"CONV poly(HA-a)","w":1725,"t":105.0},{"s":"CONV poly(HA-a)","w":1705,"t":102.0},{"s":"CONV poly(HA-a)","w":1694,"t":96.0},{"s":"CONV poly(HA-a)","w":1686,"t":89.0},{"s":"CONV poly(HA-a)","w":1680,"t":82.0},{"s":"CONV poly(HA-a)","w":1670,"t":83.0},{"s":"CONV poly(HA-a)","w":1649,"t":88.0},{"s":"CONV poly(HA-a)","w":1637,"t":91.0},{"s":"CONV poly(HA-a)","w":1624,"t":86.0},{"s":"CONV poly(HA-a)","w":1613,"t":82.0},{"s":"CONV poly(HA-a)","w":1598,"t":80.0},{"s":"CONV poly(HA-a)","w":1588,"t":82.0},{"s":"CONV poly(HA-a)","w":1577,"t":81.0},{"s":"CONV poly(HA-a)","w":1567,"t":83.0},{"s":"CONV poly(HA-a)","w":1557,"t":88.0},{"s":"CONV poly(HA-a)","w":1542,"t":92.0},{"s":"CONV poly(HA-a)","w":1528,"t":88.0},{"s":"CONV poly(HA-a)","w":1516,"t":80.0},{"s":"CONV poly(HA-a)","w":1501,"t":79.5},{"s":"CONV poly(HA-a)","w":1485,"t":85.0},{"s":"CONV poly(HA-a)","w":1465,"t":87.0},{"s":"CONV poly(HA-a)","w":1444,"t":88.0},{"s":"CONV poly(HA-a)","w":1424,"t":90.0},{"s":"CONV poly(HA-a)","w":1398,"t":92.0},{"s":"CONV poly(HA-a)","w":1383,"t":89.5},{"s":"CONV poly(HA-a)","w":1362,"t":88.0},{"s":"CONV poly(HA-a)","w":1342,"t":86.5},{"s":"CONV poly(HA-a)","w":1326,"t":88.0},{"s":"CONV poly(HA-a)","w":1311,"t":85.5},{"s":"CONV poly(HA-a)","w":1290,"t":88.5},{"s":"CONV poly(HA-a)","w":1270,"t":87.5},{"s":"CONV poly(HA-a)","w":1254,"t":87.0},{"s":"CONV poly(HA-a)","w":1239,"t":88.0},{"s":"CONV poly(HA-a)","w":1208,"t":88.5},{"s":"CONV poly(HA-a)","w":1188,"t":88.5},{"s":"CONV poly(HA-a)","w":1167,"t":89.5},{"s":"CONV poly(HA-a)","w":1152,"t":91.0},{"s":"CONV poly(HA-a)","w":1136,"t":93.0},{"s":"CONV poly(HA-a)","w":1116,"t":90.0},{"s":"CONV poly(HA-a)","w":1095,"t":91.0},{"s":"CONV poly(HA-a)","w":1075,"t":91.0},{"s":"CONV poly(HA-a)","w":1054,"t":89.5},{"s":"CONV poly(HA-a)","w":1033,"t":86.8},{"s":"CONV poly(HA-a)","w":1002,"t":89.5},{"s":"CONV poly(HA-a)","w":971,"t":94.0},{"s":"CONV poly(HA-a)","w":956,"t":95.0},{"s":"CONV poly(HA-a)","w":930,"t":92.0},{"s":"CONV poly(HA-a)","w":909,"t":96.0},{"s":"CONV poly(HA-a)","w":889,"t":100.0},{"s":"CONV poly(HA-a)","w":868,"t":103.0},{"s":"CONV poly(HA-a)","w":856,"t":104.7},{"s":"CONV poly(HA-a)","w":837,"t":101.0},{"s":"CONV poly(HA-a)","w":817,"t":96.0},{"s":"CONV poly(HA-a)","w":804,"t":95.0},{"s":"CONV poly(HA-a)","w":791,"t":101.0},{"s":"CONV poly(HA-a)","w":781,"t":103.0},{"s":"CONV poly(HA-a)","w":770,"t":98.0},{"s":"CONV poly(HA-a)","w":760,"t":92.0},{"s":"CONV poly(HA-a)","w":750,"t":89.0},{"s":"CONV poly(HA-a)","w":734,"t":96.0},{"s":"CONV poly(HA-a)","w":719,"t":102.0},{"s":"CONV poly(HA-a)","w":705,"t":103.5},{"s":"CONV poly(HA-a)","w":695,"t":101.0},{"s":"CONV poly(HA-a)","w":688,"t":93.5},{"s":"CONV poly(HA-a)","w":678,"t":101.0},{"s":"CONV poly(HA-a)","w":662,"t":102.5},{"s":"CONV poly(HA-a)","w":631,"t":105.5},{"s":"CONV poly(HA-a)","w":600,"t":105.5},{"s":"CONV poly(HA-a)","w":580,"t":105.0},{"s":"CONV poly(HA-a)","w":559,"t":102.0},{"s":"CONV poly(HA-a)","w":544,"t":98.0},{"s":"CONV poly(HA-a)","w":533,"t":95.0},{"s":"CONV poly(HA-a)","w":513,"t":97.0},{"s":"CONV poly(HA-a)","w":492,"t":103.0},{"s":"CONV poly(HA-a)","w":482,"t":105.0},{"s":"CONV poly(HA-a)","w":467,"t":100.0},{"s":"CONV poly(HA-a)","w":461,"t":98.0},{"s":"CONV poly(HA-a)","w":455,"t":100.0},{"s":"CONV poly(HA-a)","w":450,"t":105.5},
{"s":"Microwave (HA-a)","w":4000,"t":79.0},{"s":"Microwave (HA-a)","w":3919,"t":79.0},{"s":"Microwave (HA-a)","w":3858,"t":78.5},{"s":"Microwave (HA-a)","w":3777,"t":79.0},{"s":"Microwave (HA-a)","w":3726,"t":78.5},{"s":"Microwave (HA-a)","w":3696,"t":76.0},{"s":"Microwave (HA-a)","w":3685,"t":74.5},{"s":"Microwave (HA-a)","w":3675,"t":75.0},{"s":"Microwave (HA-a)","w":3635,"t":73.0},{"s":"Microwave (HA-a)","w":3574,"t":71.0},{"s":"Microwave (HA-a)","w":3493,"t":68.0},{"s":"Microwave (HA-a)","w":3432,"t":66.5},{"s":"Microwave (HA-a)","w":3401,"t":65.8},{"s":"Microwave (HA-a)","w":3350,"t":67.0},{"s":"Microwave (HA-a)","w":3269,"t":69.5},{"s":"Microwave (HA-a)","w":3188,"t":71.5},{"s":"Microwave (HA-a)","w":3127,"t":72.5},{"s":"Microwave (HA-a)","w":3107,"t":70.0},{"s":"Microwave (HA-a)","w":3087,"t":67.0},{"s":"Microwave (HA-a)","w":3066,"t":65.0},{"s":"Microwave (HA-a)","w":3046,"t":65.0},{"s":"Microwave (HA-a)","w":3026,"t":66.0},{"s":"Microwave (HA-a)","w":2985,"t":65.5},{"s":"Microwave (HA-a)","w":2965,"t":65.0},{"s":"Microwave (HA-a)","w":2934,"t":64.0},{"s":"Microwave (HA-a)","w":2884,"t":63.5},{"s":"Microwave (HA-a)","w":2843,"t":63.2},{"s":"Microwave (HA-a)","w":2782,"t":63.5},{"s":"Microwave (HA-a)","w":2762,"t":64.5},{"s":"Microwave (HA-a)","w":2741,"t":66.0},{"s":"Microwave (HA-a)","w":2721,"t":68.0},{"s":"Microwave (HA-a)","w":2681,"t":69.5},{"s":"Microwave (HA-a)","w":2666,"t":71.0},{"s":"Microwave (HA-a)","w":2605,"t":72.0},{"s":"Microwave (HA-a)","w":2564,"t":72.8},{"s":"Microwave (HA-a)","w":2523,"t":72.5},{"s":"Microwave (HA-a)","w":2420,"t":73.5},{"s":"Microwave (HA-a)","w":2318,"t":74.0},{"s":"Microwave (HA-a)","w":2215,"t":74.5},{"s":"Microwave (HA-a)","w":2113,"t":75.0},{"s":"Microwave (HA-a)","w":2010,"t":75.5},{"s":"Microwave (HA-a)","w":1984,"t":75.0},{"s":"Microwave (HA-a)","w":1969,"t":75.0},{"s":"Microwave (HA-a)","w":1948,"t":73.5},{"s":"Microwave (HA-a)","w":1922,"t":75.0},{"s":"Microwave (HA-a)","w":1891,"t":75.0},{"s":"Microwave (HA-a)","w":1871,"t":76.0},{"s":"Microwave (HA-a)","w":1839,"t":77.5},{"s":"Microwave (HA-a)","w":1824,"t":78.5},{"s":"Microwave (HA-a)","w":1808,"t":77.5},{"s":"Microwave (HA-a)","w":1788,"t":78.0},{"s":"Microwave (HA-a)","w":1767,"t":78.5},{"s":"Microwave (HA-a)","w":1746,"t":79.0},{"s":"Microwave (HA-a)","w":1725,"t":78.0},{"s":"Microwave (HA-a)","w":1705,"t":79.0},{"s":"Microwave (HA-a)","w":1694,"t":77.0},{"s":"Microwave (HA-a)","w":1684,"t":73.0},{"s":"Microwave (HA-a)","w":1676,"t":69.5},{"s":"Microwave (HA-a)","w":1665,"t":71.0},{"s":"Microwave (HA-a)","w":1649,"t":75.0},{"s":"Microwave (HA-a)","w":1639,"t":76.0},{"s":"Microwave (HA-a)","w":1629,"t":73.0},{"s":"Microwave (HA-a)","w":1618,"t":65.0},{"s":"Microwave (HA-a)","w":1608,"t":57.0},{"s":"Microwave (HA-a)","w":1598,"t":53.5},{"s":"Microwave (HA-a)","w":1583,"t":57.0},{"s":"Microwave (HA-a)","w":1572,"t":62.0},{"s":"Microwave (HA-a)","w":1557,"t":71.0},{"s":"Microwave (HA-a)","w":1542,"t":76.0},{"s":"Microwave (HA-a)","w":1528,"t":72.0},{"s":"Microwave (HA-a)","w":1516,"t":62.0},{"s":"Microwave (HA-a)","w":1506,"t":56.0},{"s":"Microwave (HA-a)","w":1501,"t":53.5},{"s":"Microwave (HA-a)","w":1475,"t":58.0},{"s":"Microwave (HA-a)","w":1454,"t":61.5},{"s":"Microwave (HA-a)","w":1444,"t":63.0},{"s":"Microwave (HA-a)","w":1429,"t":67.0},{"s":"Microwave (HA-a)","w":1418,"t":68.5},{"s":"Microwave (HA-a)","w":1403,"t":65.0},{"s":"Microwave (HA-a)","w":1383,"t":60.0},{"s":"Microwave (HA-a)","w":1352,"t":58.5},{"s":"Microwave (HA-a)","w":1336,"t":59.0},{"s":"Microwave (HA-a)","w":1321,"t":61.0},{"s":"Microwave (HA-a)","w":1301,"t":63.0},{"s":"Microwave (HA-a)","w":1285,"t":64.0},{"s":"Microwave (HA-a)","w":1265,"t":62.0},{"s":"Microwave (HA-a)","w":1244,"t":58.0},{"s":"Microwave (HA-a)","w":1224,"t":55.0},{"s":"Microwave (HA-a)","w":1203,"t":56.0},{"s":"Microwave (HA-a)","w":1177,"t":57.0},{"s":"Microwave (HA-a)","w":1157,"t":59.0},{"s":"Microwave (HA-a)","w":1152,"t":58.0},{"s":"Microwave (HA-a)","w":1136,"t":60.0},{"s":"Microwave (HA-a)","w":1116,"t":58.0},{"s":"Microwave (HA-a)","w":1095,"t":58.0},{"s":"Microwave (HA-a)","w":1075,"t":62.0},{"s":"Microwave (HA-a)","w":1054,"t":64.5},{"s":"Microwave (HA-a)","w":1044,"t":64.0},{"s":"Microwave (HA-a)","w":1033,"t":60.0},{"s":"Microwave (HA-a)","w":1018,"t":59.0},{"s":"Microwave (HA-a)","w":992,"t":56.0},{"s":"Microwave (HA-a)","w":971,"t":55.5},{"s":"Microwave (HA-a)","w":951,"t":55.0},{"s":"Microwave (HA-a)","w":935,"t":54.2},{"s":"Microwave (HA-a)","w":909,"t":58.0},{"s":"Microwave (HA-a)","w":878,"t":63.0},{"s":"Microwave (HA-a)","w":848,"t":65.5},{"s":"Microwave (HA-a)","w":832,"t":66.5},{"s":"Microwave (HA-a)","w":812,"t":64.5},{"s":"Microwave (HA-a)","w":796,"t":71.0},{"s":"Microwave (HA-a)","w":781,"t":78.5},{"s":"Microwave (HA-a)","w":765,"t":69.0},{"s":"Microwave (HA-a)","w":755,"t":59.0},{"s":"Microwave (HA-a)","w":747,"t":54.2},{"s":"Microwave (HA-a)","w":734,"t":62.0},{"s":"Microwave (HA-a)","w":719,"t":73.0},{"s":"Microwave (HA-a)","w":705,"t":77.2},{"s":"Microwave (HA-a)","w":695,"t":67.0},{"s":"Microwave (HA-a)","w":688,"t":55.5},{"s":"Microwave (HA-a)","w":678,"t":64.0},{"s":"Microwave (HA-a)","w":662,"t":67.0},{"s":"Microwave (HA-a)","w":642,"t":72.0},{"s":"Microwave (HA-a)","w":626,"t":70.5},{"s":"Microwave (HA-a)","w":616,"t":73.0},{"s":"Microwave (HA-a)","w":590,"t":75.0},{"s":"Microwave (HA-a)","w":559,"t":77.2},{"s":"Microwave (HA-a)","w":539,"t":76.0},{"s":"Microwave (HA-a)","w":523,"t":72.0},{"s":"Microwave (HA-a)","w":513,"t":69.5},{"s":"Microwave (HA-a)","w":497,"t":72.0},{"s":"Microwave (HA-a)","w":482,"t":78.0},{"s":"Microwave (HA-a)","w":466,"t":78.5},{"s":"Microwave (HA-a)","w":456,"t":78.0},{"s":"Microwave (HA-a)","w":450,"t":78.5},
{"s":"CONV (HA-a)","w":4000,"t":52.8},{"s":"CONV (HA-a)","w":3736,"t":52.8},{"s":"CONV (HA-a)","w":3706,"t":51.5},{"s":"CONV (HA-a)","w":3685,"t":50.0},{"s":"CONV (HA-a)","w":3635,"t":48.0},{"s":"CONV (HA-a)","w":3574,"t":45.5},{"s":"CONV (HA-a)","w":3493,"t":42.5},{"s":"CONV (HA-a)","w":3432,"t":40.5},{"s":"CONV (HA-a)","w":3401,"t":40.0},{"s":"CONV (HA-a)","w":3350,"t":41.0},{"s":"CONV (HA-a)","w":3269,"t":44.0},{"s":"CONV (HA-a)","w":3188,"t":46.5},{"s":"CONV (HA-a)","w":3127,"t":47.5},{"s":"CONV (HA-a)","w":3097,"t":45.5},{"s":"CONV (HA-a)","w":3076,"t":43.0},{"s":"CONV (HA-a)","w":3056,"t":41.5},{"s":"CONV (HA-a)","w":3036,"t":42.5},{"s":"CONV (HA-a)","w":3005,"t":42.0},{"s":"CONV (HA-a)","w":2975,"t":42.5},{"s":"CONV (HA-a)","w":2944,"t":41.0},{"s":"CONV (HA-a)","w":2924,"t":40.0},{"s":"CONV (HA-a)","w":2863,"t":40.2},{"s":"CONV (HA-a)","w":2802,"t":41.0},{"s":"CONV (HA-a)","w":2762,"t":42.0},{"s":"CONV (HA-a)","w":2721,"t":44.0},{"s":"CONV (HA-a)","w":2681,"t":45.5},{"s":"CONV (HA-a)","w":2646,"t":46.5},{"s":"CONV (HA-a)","w":2584,"t":47.0},{"s":"CONV (HA-a)","w":2564,"t":46.5},{"s":"CONV (HA-a)","w":2523,"t":47.5},{"s":"CONV (HA-a)","w":2420,"t":48.5},{"s":"CONV (HA-a)","w":2318,"t":49.0},{"s":"CONV (HA-a)","w":2215,"t":49.5},{"s":"CONV (HA-a)","w":2113,"t":50.0},{"s":"CONV (HA-a)","w":2010,"t":50.5},{"s":"CONV (HA-a)","w":1953,"t":50.5},{"s":"CONV (HA-a)","w":1927,"t":49.5},{"s":"CONV (HA-a)","w":1902,"t":51.0},{"s":"CONV (HA-a)","w":1850,"t":51.5},{"s":"CONV (HA-a)","w":1829,"t":52.0},{"s":"CONV (HA-a)","w":1798,"t":52.8},{"s":"CONV (HA-a)","w":1777,"t":52.2},{"s":"CONV (HA-a)","w":1746,"t":52.8},{"s":"CONV (HA-a)","w":1715,"t":52.8},{"s":"CONV (HA-a)","w":1700,"t":51.0},{"s":"CONV (HA-a)","w":1684,"t":48.0},{"s":"CONV (HA-a)","w":1665,"t":48.5},{"s":"CONV (HA-a)","w":1644,"t":50.0},{"s":"CONV (HA-a)","w":1629,"t":47.0},{"s":"CONV (HA-a)","w":1618,"t":40.0},{"s":"CONV (HA-a)","w":1608,"t":31.0},{"s":"CONV (HA-a)","w":1598,"t":27.0},{"s":"CONV (HA-a)","w":1583,"t":33.0},{"s":"CONV (HA-a)","w":1567,"t":43.0},{"s":"CONV (HA-a)","w":1552,"t":49.0},{"s":"CONV (HA-a)","w":1542,"t":49.5},{"s":"CONV (HA-a)","w":1528,"t":46.0},{"s":"CONV (HA-a)","w":1516,"t":36.0},{"s":"CONV (HA-a)","w":1501,"t":27.5},{"s":"CONV (HA-a)","w":1485,"t":34.0},{"s":"CONV (HA-a)","w":1470,"t":38.0},{"s":"CONV (HA-a)","w":1454,"t":37.0},{"s":"CONV (HA-a)","w":1439,"t":40.0},{"s":"CONV (HA-a)","w":1424,"t":44.0},{"s":"CONV (HA-a)","w":1408,"t":41.0},{"s":"CONV (HA-a)","w":1393,"t":35.0},{"s":"CONV (HA-a)","w":1372,"t":33.0},{"s":"CONV (HA-a)","w":1352,"t":32.5},{"s":"CONV (HA-a)","w":1336,"t":35.0},{"s":"CONV (HA-a)","w":1321,"t":38.0},{"s":"CONV (HA-a)","w":1306,"t":39.0},{"s":"CONV (HA-a)","w":1290,"t":39.5},{"s":"CONV (HA-a)","w":1270,"t":38.0},{"s":"CONV (HA-a)","w":1249,"t":34.0},{"s":"CONV (HA-a)","w":1229,"t":29.5},{"s":"CONV (HA-a)","w":1208,"t":30.0},{"s":"CONV (HA-a)","w":1188,"t":32.0},{"s":"CONV (HA-a)","w":1167,"t":33.0},{"s":"CONV (HA-a)","w":1157,"t":32.5},{"s":"CONV (HA-a)","w":1136,"t":36.5},{"s":"CONV (HA-a)","w":1116,"t":33.5},{"s":"CONV (HA-a)","w":1095,"t":34.0},{"s":"CONV (HA-a)","w":1075,"t":39.0},{"s":"CONV (HA-a)","w":1054,"t":41.0},{"s":"CONV (HA-a)","w":1044,"t":40.5},{"s":"CONV (HA-a)","w":1038,"t":38.0},{"s":"CONV (HA-a)","w":1023,"t":34.5},{"s":"CONV (HA-a)","w":1007,"t":34.0},{"s":"CONV (HA-a)","w":992,"t":31.0},{"s":"CONV (HA-a)","w":971,"t":30.0},{"s":"CONV (HA-a)","w":951,"t":30.0},{"s":"CONV (HA-a)","w":935,"t":28.8},{"s":"CONV (HA-a)","w":909,"t":33.0},{"s":"CONV (HA-a)","w":878,"t":39.0},{"s":"CONV (HA-a)","w":853,"t":42.0},{"s":"CONV (HA-a)","w":832,"t":44.5},{"s":"CONV (HA-a)","w":812,"t":42.0},{"s":"CONV (HA-a)","w":796,"t":48.0},{"s":"CONV (HA-a)","w":781,"t":52.8},{"s":"CONV (HA-a)","w":765,"t":44.0},{"s":"CONV (HA-a)","w":755,"t":34.0},{"s":"CONV (HA-a)","w":747,"t":28.2},{"s":"CONV (HA-a)","w":734,"t":35.0},{"s":"CONV (HA-a)","w":719,"t":48.0},{"s":"CONV (HA-a)","w":705,"t":51.5},{"s":"CONV (HA-a)","w":695,"t":42.0},{"s":"CONV (HA-a)","w":688,"t":30.5},{"s":"CONV (HA-a)","w":678,"t":41.0},{"s":"CONV (HA-a)","w":662,"t":44.0},{"s":"CONV (HA-a)","w":642,"t":48.0},{"s":"CONV (HA-a)","w":626,"t":47.0},{"s":"CONV (HA-a)","w":616,"t":49.0},{"s":"CONV (HA-a)","w":590,"t":50.5},{"s":"CONV (HA-a)","w":575,"t":51.0},{"s":"CONV (HA-a)","w":559,"t":50.5},{"s":"CONV (HA-a)","w":539,"t":49.5},{"s":"CONV (HA-a)","w":523,"t":46.0},{"s":"CONV (HA-a)","w":513,"t":44.5},{"s":"CONV (HA-a)","w":497,"t":47.0},{"s":"CONV (HA-a)","w":482,"t":52.0},{"s":"CONV (HA-a)","w":466,"t":52.5},{"s":"CONV (HA-a)","w":456,"t":51.8},{"s":"CONV (HA-a)","w":450,"t":52.5},
{"s":"HA","w":4000,"t":26.2},{"s":"HA","w":3736,"t":26.2},{"s":"HA","w":3716,"t":24.0},{"s":"HA","w":3706,"t":19.0},{"s":"HA","w":3696,"t":16.0},{"s":"HA","w":3685,"t":13.0},{"s":"HA","w":3679,"t":15.0},{"s":"HA","w":3671,"t":16.0},{"s":"HA","w":3655,"t":14.0},{"s":"HA","w":3624,"t":9.5},{"s":"HA","w":3614,"t":7.0},{"s":"HA","w":3604,"t":9.0},{"s":"HA","w":3574,"t":7.0},{"s":"HA","w":3533,"t":5.0},{"s":"HA","w":3472,"t":3.0},{"s":"HA","w":3411,"t":2.2},{"s":"HA","w":3350,"t":3.0},{"s":"HA","w":3269,"t":4.5},{"s":"HA","w":3168,"t":6.0},{"s":"HA","w":3066,"t":8.0},{"s":"HA","w":2965,"t":10.0},{"s":"HA","w":2863,"t":12.0},{"s":"HA","w":2762,"t":14.0},{"s":"HA","w":2681,"t":15.5},{"s":"HA","w":2625,"t":17.0},{"s":"HA","w":2523,"t":18.5},{"s":"HA","w":2420,"t":20.5},{"s":"HA","w":2318,"t":22.5},{"s":"HA","w":2215,"t":24.0},{"s":"HA","w":2113,"t":25.0},{"s":"HA","w":2010,"t":25.5},{"s":"HA","w":1953,"t":26.0},{"s":"HA","w":1902,"t":26.2},{"s":"HA","w":1850,"t":26.2},{"s":"HA","w":1819,"t":26.2},{"s":"HA","w":1798,"t":25.5},{"s":"HA","w":1777,"t":23.0},{"s":"HA","w":1757,"t":19.0},{"s":"HA","w":1736,"t":15.0},{"s":"HA","w":1715,"t":12.5},{"s":"HA","w":1684,"t":11.5},{"s":"HA","w":1659,"t":9.5},{"s":"HA","w":1639,"t":8.0},{"s":"HA","w":1624,"t":6.5},{"s":"HA","w":1598,"t":8.0},{"s":"HA","w":1567,"t":11.0},{"s":"HA","w":1547,"t":13.5},{"s":"HA","w":1526,"t":15.5},{"s":"HA","w":1506,"t":17.0},{"s":"HA","w":1485,"t":16.5},{"s":"HA","w":1465,"t":15.0},{"s":"HA","w":1434,"t":14.5},{"s":"HA","w":1403,"t":14.0},{"s":"HA","w":1372,"t":15.0},{"s":"HA","w":1331,"t":16.0},{"s":"HA","w":1290,"t":15.8},{"s":"HA","w":1249,"t":16.5},{"s":"HA","w":1208,"t":17.0},{"s":"HA","w":1188,"t":17.0},{"s":"HA","w":1167,"t":15.5},{"s":"HA","w":1147,"t":13.0},{"s":"HA","w":1126,"t":10.0},{"s":"HA","w":1111,"t":8.0},{"s":"HA","w":1095,"t":8.0},{"s":"HA","w":1075,"t":7.0},{"s":"HA","w":1054,"t":4.0},{"s":"HA","w":1044,"t":2.0},{"s":"HA","w":1038,"t":0.5},{"s":"HA","w":1023,"t":2.0},{"s":"HA","w":1002,"t":2.2},{"s":"HA","w":992,"t":5.0},{"s":"HA","w":971,"t":12.0},{"s":"HA","w":951,"t":15.5},{"s":"HA","w":930,"t":16.5},{"s":"HA","w":920,"t":15.5},{"s":"HA","w":909,"t":13.5},{"s":"HA","w":894,"t":18.0},{"s":"HA","w":878,"t":22.0},{"s":"HA","w":858,"t":25.5},{"s":"HA","w":848,"t":26.0},{"s":"HA","w":827,"t":25.8},{"s":"HA","w":806,"t":25.5},{"s":"HA","w":791,"t":25.0},{"s":"HA","w":775,"t":25.5},{"s":"HA","w":765,"t":25.0},{"s":"HA","w":755,"t":24.0},{"s":"HA","w":745,"t":24.5},{"s":"HA","w":729,"t":25.5},{"s":"HA","w":719,"t":26.0},{"s":"HA","w":709,"t":24.5},{"s":"HA","w":693,"t":22.5},{"s":"HA","w":678,"t":23.5},{"s":"HA","w":662,"t":24.0},{"s":"HA","w":642,"t":25.0},{"s":"HA","w":621,"t":26.0},{"s":"HA","w":600,"t":25.5},{"s":"HA","w":580,"t":24.0},{"s":"HA","w":559,"t":20.0},{"s":"HA","w":544,"t":15.0},{"s":"HA","w":533,"t":11.5},{"s":"HA","w":518,"t":15.0},{"s":"HA","w":503,"t":22.0},{"s":"HA","w":492,"t":26.0},{"s":"HA","w":482,"t":23.0},{"s":"HA","w":472,"t":16.0},{"s":"HA","w":464,"t":13.5},{"s":"HA","w":456,"t":18.0},{"s":"HA","w":450,"t":26.0}
  ]
 },
 "vconcat": [
  {
   "width": 830,
   "height": 485,
   "title": {"text": "a)", "anchor": "start", "frame": "group", "orient": "top", "font": "Liberation Serif", "fontSize": 24, "fontWeight": "bold", "color": "#000000", "baseline": "middle", "offset": 0, "dx": -50, "dy": 47},
   "layer": [
    {
     "data": {"name": "a"},
     "mark": {"type": "line", "strokeWidth": 1.3},
     "encoding": {
      "x": {"field": "w", "type": "quantitative",
            "scale": {"domain": [4000, 2000, 450], "range": [0, 326, 830], "nice": false, "zero": false},
            "axis": {"values": [4000,3600,3200,2800,2400,2000,1800,1600,1400,1200,1000,800,600,450], "format": "d",
                     "labelFontSize": 10, "labelFontWeight": "bold", "labelColor": "#333333", "labelBaseline": "middle", "labelPadding": 14,
                     "tickSize": 4, "tickColor": "#000000", "domainColor": "#000000", "domainWidth": 2, "labelFlush": false, "labelOverlap": false,
                     "title": "Wavenumber (cm-1)", "titleFontSize": 20, "titleFontWeight": "bold", "titleColor": "#000000",
                     "titleX": 366, "titleY": 45, "titleAlign": "center", "titleBaseline": "middle"}},
      "y": {"field": "t", "type": "quantitative",
            "scale": {"domain": [0, 135.7], "nice": false, "zero": false},
            "axis": {"values": [135.7,129.05,122.4,115.75,109.1,102.45,95.8,89.15,82.5,75.85,69.2,62.55,55.9,49.25,42.6,35.95,29.3,22.65,16,9.35,2.7],
                     "labels": false, "tickSize": 4, "tickColor": "#000000", "domainColor": "#000000", "domainWidth": 1.5,
                     "title": "%T", "titleAngle": 0, "titleAlign": "left", "titleBaseline": "middle", "titleX": -47, "titleY": 253,
                     "titleFontSize": 19, "titleFontWeight": "bold", "titleColor": "#000000"}},
      "color": {"field": "s", "type": "nominal",
                "scale": {"domain": ["CONV Poly(BA-a)", "CONV (BA-a)", "CONV Poly (HA-a)", "CONV(HA-a)", "HA"],
                          "range": ["#1a1a1a", "#b8262d", "#2e2e8f", "#2f6e35", "#4d2a5c"]},
                "legend": null}
     }
    },
    {
     "data": {"name": "la"},
     "mark": {"type": "text", "align": "left", "baseline": "middle", "fontSize": 20, "fontWeight": "bold", "font": "Liberation Sans"},
     "encoding": {
      "x": {"field": "w", "type": "quantitative"},
      "y": {"field": "t", "type": "quantitative"},
      "text": {"field": "s"},
      "color": {"field": "s", "type": "nominal",
                "scale": {"domain": ["CONV Poly(BA-a)", "CONV (BA-a)", "CONV Poly (HA-a)", "CONV(HA-a)", "HA"],
                          "range": ["#111111", "#e0403c", "#5052bd", "#2fb54f", "#8f3c9a"]},
                "legend": null}
     }
    }
   ],
   "resolve": {"scale": {"color": "independent"}}
  },
  {
   "width": 830,
   "height": 506,
   "title": {"text": "b)", "anchor": "start", "frame": "group", "orient": "top", "font": "Liberation Serif", "fontSize": 24, "fontWeight": "bold", "color": "#000000", "baseline": "middle", "offset": 0, "dx": -50, "dy": 54},
   "layer": [
    {
     "data": {"name": "b"},
     "mark": {"type": "line", "strokeWidth": 1.3},
     "encoding": {
      "x": {"field": "w", "type": "quantitative",
            "scale": {"domain": [4000, 2000, 450], "range": [0, 326, 830], "nice": false, "zero": false},
            "axis": {"values": [4000,3600,3200,2800,2400,2000,1800,1600,1400,1200,1000,800,600,450], "format": "d",
                     "labelFontSize": 10, "labelFontWeight": "bold", "labelColor": "#333333", "labelBaseline": "middle", "labelPadding": 9,
                     "tickSize": 4, "tickColor": "#000000", "domainColor": "#000000", "domainWidth": 2, "labelFlush": false, "labelOverlap": false,
                     "title": "Wavenumber (cm-1)", "titleFontSize": 21, "titleFontWeight": "bold", "titleColor": "#000000",
                     "titleX": 378, "titleY": 36, "titleAlign": "center", "titleBaseline": "middle"}},
      "y": {"field": "t", "type": "quantitative",
            "scale": {"domain": [0, 132.2], "nice": false, "zero": false},
            "axis": {"values": [132.2,125.2,118.2,111.2,104.2,97.2,90.2,83.2,76.2,69.2,62.2,55.2,48.2,41.2,34.2,27.2,20.2,13.2,6.2],
                     "labels": false, "tickSize": 4, "tickColor": "#000000", "domainColor": "#000000", "domainWidth": 1.5,
                     "title": "%T", "titleAngle": 0, "titleAlign": "left", "titleBaseline": "middle", "titleX": -47, "titleY": 250,
                     "titleFontSize": 19, "titleFontWeight": "bold", "titleColor": "#000000"}},
      "color": {"field": "s", "type": "nominal",
                "scale": {"domain": ["Microwave Poly(HA-a)", "CONV poly(HA-a)", "Microwave (HA-a)", "CONV (HA-a)", "HA"],
                          "range": ["#1a1a1a", "#8c2e34", "#1d1d66", "#2e6333", "#2c7a7c"]},
                "legend": null}
     }
    },
    {
     "data": {"name": "lb"},
     "mark": {"type": "text", "align": "left", "baseline": "middle", "fontSize": 20, "fontWeight": "bold", "font": "Liberation Sans"},
     "encoding": {
      "x": {"field": "w", "type": "quantitative"},
      "y": {"field": "t", "type": "quantitative"},
      "text": {"field": "s"},
      "color": {"field": "s", "type": "nominal",
                "scale": {"domain": ["Microwave Poly(HA-a)", "CONV poly(HA-a)", "Microwave (HA-a)", "CONV (HA-a)", "HA"],
                          "range": ["#111111", "#cf3038", "#4646a8", "#2aaa4c", "#1e7b82"]},
                "legend": null}
     }
    }
   ],
   "resolve": {"scale": {"color": "independent"}}
  }
 ]
}
